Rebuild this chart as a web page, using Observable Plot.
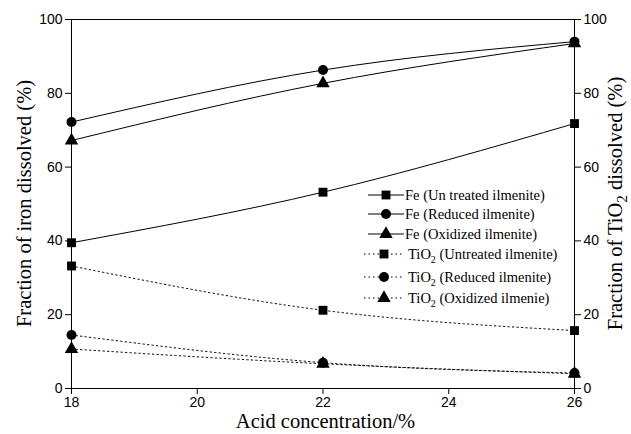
<!DOCTYPE html>
<html>
<head>
<meta charset="utf-8">
<script src="https://cdn.jsdelivr.net/npm/d3@7"></script>
<script src="https://cdn.jsdelivr.net/npm/@observablehq/plot@0.6"></script>
<style>
  html, body { margin: 0; padding: 0; background: #fff; }
  #chart { width: 631px; height: 434px; }
  svg text.serif, svg text.serif tspan { font-family: "Liberation Serif", "Times New Roman", Times, serif !important; }
</style>
</head>
<body>
<div id="chart"></div>
<script>
// ---- Data ----
const concentration = [18, 22, 26];
const xTicks = [18, 20, 22, 24, 26];
const yTicks = [0, 20, 40, 60, 80, 100];

const feUntreated = [39.5, 53.2, 71.8];
const feReduced   = [72.2, 86.3, 94.0];
const feOxidized  = [67.2, 82.7, 93.5];
const tiUntreated = [33.2, 21.2, 15.7];
const tiReduced   = [14.5, 7.0, 4.2];
const tiOxidized  = [10.7, 6.7, 4.0];

const seriesNames = [
  "Fe (Un treated ilmenite)",
  "Fe (Reduced ilmenite)",
  "Fe (Oxidized ilmenite)",
  "TiO2 (Untreated ilmenite)",
  "TiO2 (Reduced ilmenite)",
  "TiO2 (Oxidized ilmenie)"
];
const seriesKinds = ["untreated", "reduced", "oxidized", "untreated", "reduced", "oxidized"];
const seriesGroups = ["Fe", "Fe", "Fe", "TiO2", "TiO2", "TiO2"];
const seriesValues = [feUntreated, feReduced, feOxidized, tiUntreated, tiReduced, tiOxidized];

// build table
const rows = [];
seriesValues.forEach((vals, i) => {
  vals.forEach((v, j) => rows.push({
    series: seriesNames[i], kind: seriesKinds[i], group: seriesGroups[i],
    x: concentration[j], y: v
  }));
});
const feRows = rows.filter(d => d.group === "Fe");
const tiRows = rows.filter(d => d.group === "TiO2");

const symbolScale = {domain: ["untreated", "reduced", "oxidized"], range: ["square", "circle", "triangle"]};
const DOTS = "1.5,3";

const W = 631, H = 434;
const M = {left: 71, right: 57, top: 19, bottom: 46};

const chart = Plot.plot({
  width: W, height: H,
  marginLeft: M.left, marginRight: M.right, marginTop: M.top, marginBottom: M.bottom,
  style: {fontFamily: "'Liberation Sans', Arial, sans-serif", fontSize: "14px", color: "#000", background: "#fff"},
  x: {domain: [18, 26]},
  y: {domain: [0, 100]},
  symbol: symbolScale,
  marks: [
    Plot.frame({stroke: "#000", strokeWidth: 1}),
    Plot.axisX({ticks: xTicks, tickSize: 6, tickPadding: 3, label: null, fontSize: 14, tickFormat: d => d}),
    Plot.axisY({anchor: "left", ticks: yTicks, tickSize: 6, tickPadding: 3, label: null, fontSize: 14}),
    Plot.axisY({anchor: "right", ticks: yTicks, tickSize: 6, tickPadding: 3, label: null, fontSize: 14}),
    Plot.line(feRows, {x: "x", y: "y", z: "series", curve: "natural", stroke: "#000", strokeWidth: 1}),
    Plot.line(tiRows, {x: "x", y: "y", z: "series", curve: "natural", stroke: "#000", strokeWidth: 1, strokeDasharray: DOTS}),
    Plot.dot(rows, {x: "x", y: "y", symbol: "kind", r: 5, fill: "#000", stroke: "none"})
  ]
});

document.getElementById("chart").appendChild(chart);

// ---- Axis titles & legend (text) ----
const svg = d3.select(chart);
const plotMidY = M.top + (H - M.top - M.bottom) / 2;

function serifText(sel, size, anchor) {
  return sel.attr("class", "serif").style("font-size", size + "px")
    .style("text-anchor", anchor).style("fill", "#000");
}

serifText(svg.append("text"), 20.5, "middle")
  .attr("x", M.left + (W - M.left - M.right) / 2 + 3).attr("y", 428)
  .text("Acid concentration/%");

serifText(svg.append("text"), 20.5, "middle")
  .attr("transform", `translate(31,${plotMidY}) rotate(-90)`)
  .text("Fraction of iron dissolved (%)");

const rt = serifText(svg.append("text"), 20.5, "middle")
  .attr("transform", `translate(622,${plotMidY}) rotate(-90)`);
rt.append("tspan").text("Fraction of TiO");
rt.append("tspan").attr("dy", 5).style("font-size", "15px").text("2");
rt.append("tspan").attr("dy", -5).text(" dissolved (%)");

// legend
const leg = svg.append("g");
const legY = [195, 214, 234, 254, 277, 298];
const symMap = {untreated: d3.symbolSquare, reduced: d3.symbolCircle, oxidized: d3.symbolTriangle};
seriesNames.forEach((name, i) => {
  const y = legY[i];
  const isTi = seriesGroups[i] === "TiO2";
  const x0 = isTi ? 364 : 368, x1 = isTi ? 403 : 404, xm = isTi ? 384 : 386;
  leg.append("line").attr("x1", x0).attr("x2", x1).attr("y1", y).attr("y2", y)
    .attr("stroke", "#000").attr("stroke-width", 1)
    .attr("stroke-dasharray", isTi ? DOTS : null);
  leg.append("path").attr("d", d3.symbol(symMap[seriesKinds[i]], Math.PI * 25)())
    .attr("transform", `translate(${xm},${y})`).attr("fill", "#000");
  const t = serifText(leg.append("text"), 14.5, "start").attr("x", isTi ? 408 : 405).attr("y", y + 5);
  if (isTi) {
    t.append("tspan").text("TiO");
    t.append("tspan").attr("dy", 4).style("font-size", "10px").text("2");
    t.append("tspan").attr("dy", -4).text(name.slice(4));
  } else {
    t.text(name);
  }
});
</script>
</body>
</html>
